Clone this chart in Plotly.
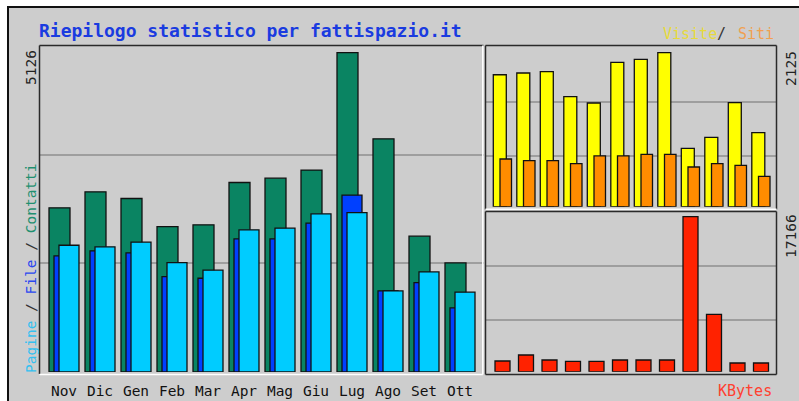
import plotly.graph_objects as go

# ---------------- data ----------------
months = ['Nov', 'Dic', 'Gen', 'Feb', 'Mar', 'Apr', 'Mag', 'Giu', 'Lug', 'Ago', 'Set', 'Ott']
contatti = [2635, 2892, 2785, 2335, 2362, 3042, 3112, 3241, 5126, 3744, 2180, 1751]
files = [1864, 1944, 1912, 1532, 1505, 2137, 2137, 2389, 2839, 1302, 1435, 1028]
pagine = [2035, 2009, 2084, 1757, 1634, 2282, 2309, 2539, 2560, 1302, 1607, 1281]
visite = [1821, 1845, 1863, 1518, 1431, 1992, 2034, 2125, 806, 957, 1435, 1021]
siti = [658, 635, 635, 593, 700, 700, 723, 723, 548, 593, 571, 419]
kbytes = [1185, 1850, 1296, 1152, 1152, 1296, 1296, 1296, 17166, 6357, 963, 963]

W, H = 799, 401
GREY = '#cdcdcd'
GRID = '#9e9e9e'
MONO = 'DejaVu Sans Mono'


def fx(px):
    return px / W


def fy(py):
    return 1 - py / H


idx = list(range(len(months)))
OUT = dict(color='#111111', width=1.3)

fig = go.Figure()

# ---- left chart: Contatti / File / Pagine (unit = 36 px per month)
fig.add_trace(go.Bar(x=idx, y=contatti, offset=0, width=21 / 36,
                     marker=dict(color='#0a8462', line=OUT), xaxis='x', yaxis='y'))
fig.add_trace(go.Bar(x=idx, y=files, offset=5 / 36, width=20 / 36,
                     marker=dict(color='#0040ff', line=OUT), xaxis='x', yaxis='y'))
fig.add_trace(go.Bar(x=idx, y=pagine, offset=10 / 36, width=20 / 36,
                     marker=dict(color='#00ccff', line=OUT), xaxis='x', yaxis='y'))

# ---- top right: Visite / Siti (unit = 23.5 px)
fig.add_trace(go.Bar(x=idx, y=visite, offset=0, width=13 / 23.5,
                     marker=dict(color='#ffff00', line=OUT), xaxis='x2', yaxis='y2'))
fig.add_trace(go.Bar(x=idx, y=siti, offset=6.7 / 23.5, width=11.5 / 23.5,
                     marker=dict(color='#ff8c00', line=OUT), xaxis='x2', yaxis='y2'))

# ---- bottom right: KBytes
fig.add_trace(go.Bar(x=idx, y=kbytes, offset=1.7 / 23.5, width=15 / 23.5,
                     marker=dict(color='#ff2200', line=OUT), xaxis='x3', yaxis='y3'))

R1 = max(contatti) * 326 / 319.3
R2 = max(visite) * 160.7 / 154
R3 = max(kbytes) * 160.7 / 155

common_y = dict(showticklabels=False, ticks='', zeroline=False, showline=False,
                showgrid=True, gridcolor=GRID, gridwidth=1.5, fixedrange=True)
common_x = dict(showgrid=False, zeroline=False, showline=False, ticks='', fixedrange=True)

fig.update_layout(
    width=W, height=H, autosize=False,
    margin=dict(l=0, r=0, t=0, b=0),
    paper_bgcolor='white', plot_bgcolor='rgba(0,0,0,0)',
    barmode='overlay', showlegend=False,
    xaxis=dict(domain=[fx(40), fx(484)], range=[-9 / 36, 435 / 36], anchor='y',
               tickvals=[i + 15 / 36 for i in idx], ticktext=months,
               tickfont=dict(family=MONO, size=14.5, color='#111111'),
               ticklabelstandoff=8, **common_x),
    yaxis=dict(domain=[fy(372), fy(46)], range=[0, R1], anchor='x',
               tickvals=[R1 / 3, 2 * R1 / 3], **common_y),
    xaxis2=dict(domain=[fx(485), fx(776)], range=[-8.3 / 23.5, 282.7 / 23.5], anchor='y2',
                showticklabels=False, **common_x),
    yaxis2=dict(domain=[fy(206.7), fy(46)], range=[0, R2], anchor='x2',
                tickvals=[R2 * 0.317, R2 * 0.653], **common_y),
    xaxis3=dict(domain=[fx(485), fx(776)], range=[-8.3 / 23.5, 282.7 / 23.5], anchor='y3',
                showticklabels=False, **common_x),
    yaxis3=dict(domain=[fy(371.7), fy(211)], range=[0, R3], anchor='x3',
                tickvals=[R3 * 0.32, R3 * 0.658], **common_y),
)

shapes = []
# outer grey panel with black top/left border
shapes.append(dict(type='rect', xref='paper', yref='paper', layer='below',
                   x0=fx(8), x1=fx(812), y0=fy(7), y1=fy(415),
                   fillcolor=GREY, line=dict(color='#111111', width=2)))


def line(x0, y0, x1, y1, color, width=1.5, layer='above'):
    shapes.append(dict(type='line', xref='paper', yref='paper', layer=layer,
                       x0=fx(x0), y0=fy(y0), x1=fx(x1), y1=fy(y1),
                       line=dict(color=color, width=width)))


DARK = '#2a2a2a'
# left chart frame
line(39.5, 45.5, 39.5, 374, DARK)
line(39.5, 45.5, 483.5, 45.5, DARK)
line(482.8, 45.5, 482.8, 374.5, 'white')
line(39.5, 374.5, 482.8, 374.5, 'white')
# top-right chart frame
line(485.5, 45.5, 485.5, 209.5, DARK)
line(485.5, 45.5, 776.5, 45.5, DARK)
line(776.5, 45.5, 776.5, 209.5, DARK)
line(485.5, 209.2, 776.5, 209.2, 'white')
# bottom-right chart frame
line(485.5, 211.5, 485.5, 374.5, DARK)
line(485.5, 211.5, 776.5, 211.5, DARK)
line(776.5, 211.5, 776.5, 374.5, DARK)
line(485.5, 374.5, 776.5, 374.5, DARK)

fig.update_layout(shapes=shapes)

ann = []


def text(x, y, s, color, size=14.5, angle=0, xanchor='center', bold=False):
    ann.append(dict(xref='paper', yref='paper', x=fx(x), y=fy(y), text=s, showarrow=False,
                    textangle=angle, xanchor=xanchor, yanchor='middle',
                    font=dict(family=MONO, size=size, color=color,
                              weight='bold' if bold else 'normal')))


text(37, 30, 'Riepilogo statistico per fattispazio.it', '#1a3be0', size=18, xanchor='left', bold=True)
text(661, 34, 'Visite', '#e6da3c', size=15, xanchor='left')
text(721, 34, '/', '#333333', size=15)
text(736, 34, 'Siti', '#f0a050', size=15, xanchor='left')
text(716, 391, 'KBytes', '#ff4030', size=15, xanchor='left')
text(31, 268,
     "<span style='color:#33c0f0'>Pagine</span> / "
     "<span style='color:#2a48f0'>File</span> / "
     "<span style='color:#1f9070'>Contatti</span>",
     '#333333', size=14.5, angle=-90)
text(31, 68, str(max(contatti)), '#222222', size=14.5, angle=-90)
text(791, 69, str(max(visite)), '#222222', size=14.5, angle=-90)
text(791, 236, str(max(kbytes)), '#222222', size=14.5, angle=-90)

fig.update_layout(annotations=ann)

fig.write_html('out.html', config={'displayModeBar': False},
               post_script="document.body.style.margin='0';")
